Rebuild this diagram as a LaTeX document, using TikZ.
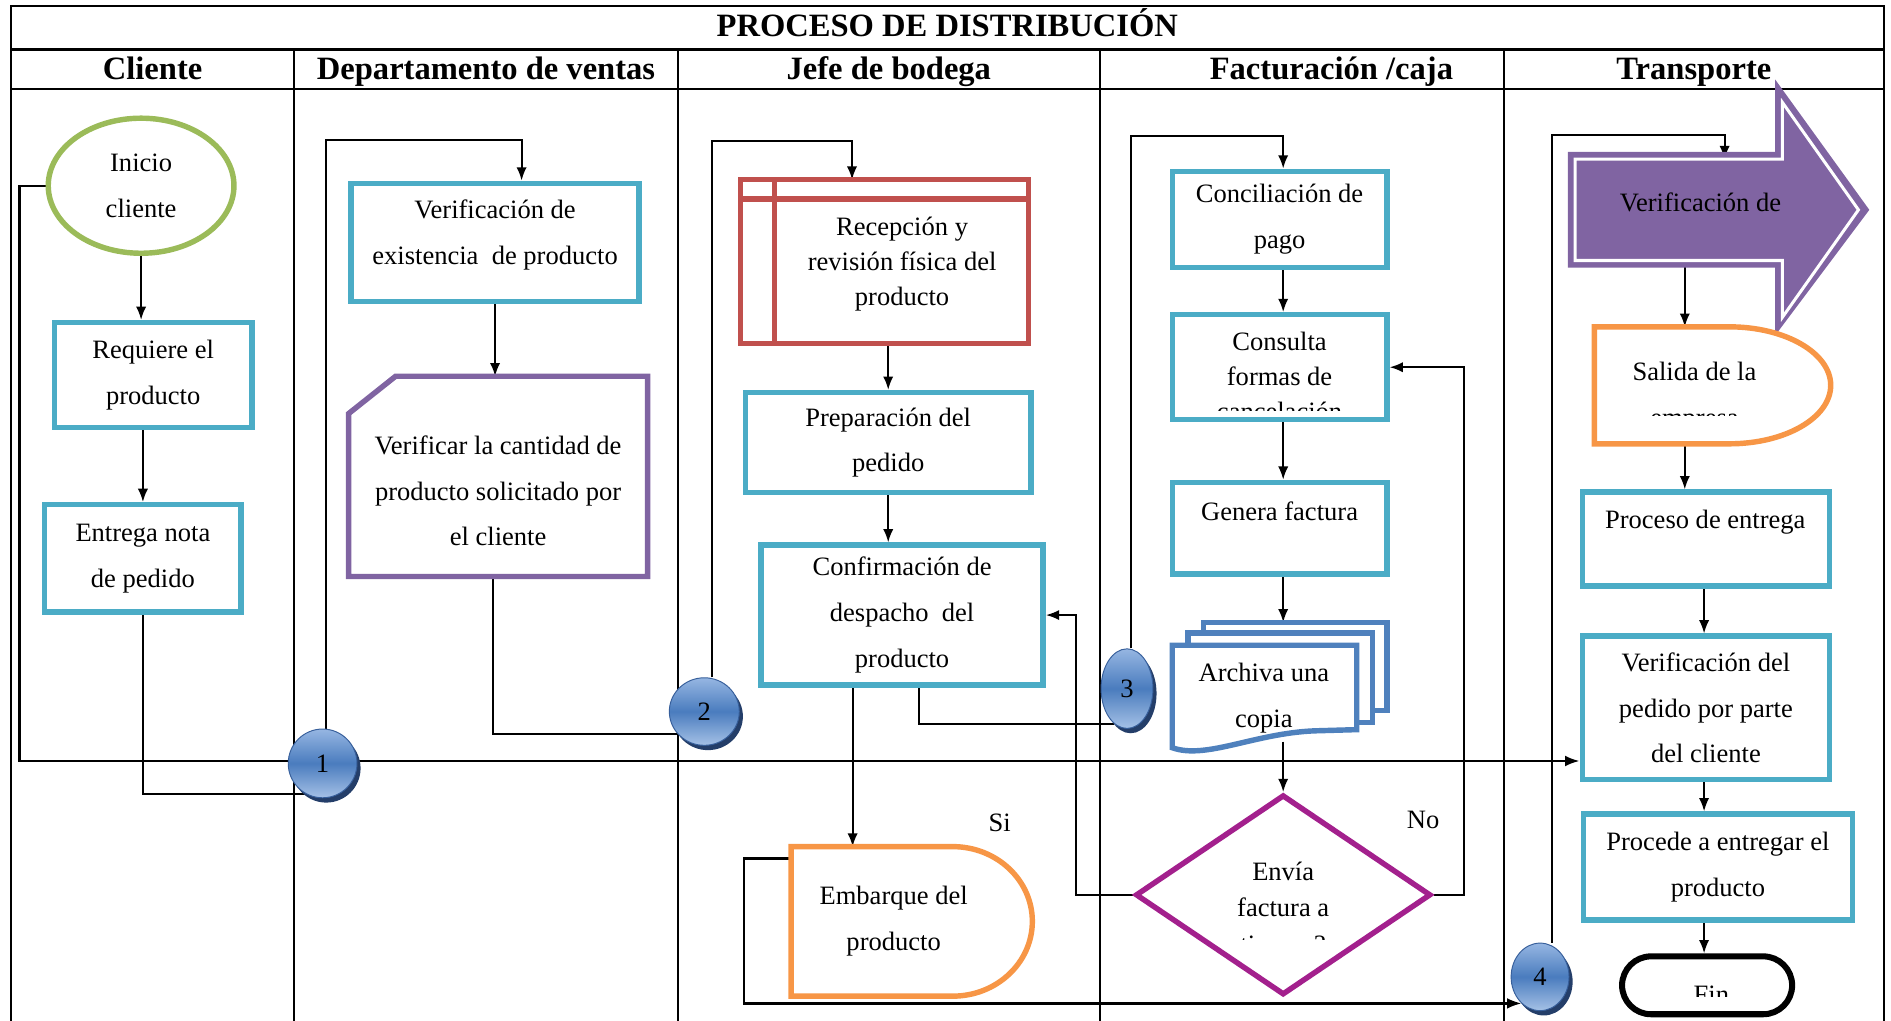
\documentclass[tikz,border=0pt]{standalone}
\usepackage{fontspec}
\setmainfont{Liberation Serif}
\usetikzlibrary{shapes.geometric,shadows,backgrounds,arrows.meta}
\definecolor{boxblue}{RGB}{75,172,198}
\definecolor{docblue}{RGB}{79,129,189}
\definecolor{leaf}{RGB}{155,187,89}
\definecolor{plum}{RGB}{128,100,162}
\definecolor{brick}{RGB}{192,80,77}
\definecolor{tang}{RGB}{247,150,70}
\definecolor{magen}{RGB}{163,32,141}
\definecolor{balltop}{RGB}{150,182,226}
\definecolor{ballmid}{RGB}{74,124,190}
\definecolor{ballbot}{RGB}{165,193,230}
\definecolor{ballrim}{RGB}{55,95,155}
\definecolor{ballshade}{RGB}{36,62,105}
\begin{document}
\begin{tikzpicture}[x=1pt,y=-1pt,
		every node/.style={font=\fontsize{22}{38}\selectfont},
		txt/.style={align=center, inner sep=0pt},
		tight/.style={font=\fontsize{22}{29}\selectfont},
		lanehead/.style={font=\fontsize{27}{30}\bfseries, anchor=base},
		box/.style={draw=boxblue, line width=4.5pt, fill=white, align=center, inner sep=0pt},
		ghost/.style={inner sep=0pt, outer sep=0pt},
		link/.style={line width=1.6pt},
		flow/.style={line width=1.6pt, -{Latex[length=11pt,width=8.5pt]}},
		mainflow/.style={line width=2pt, -{Latex[length=12pt,width=9pt]}},
		bubble/.style={ellipse, inner sep=0pt, draw=ballrim, line width=0.8pt,
			top color=balltop, bottom color=ballbot, middle color=ballmid,
			drop shadow={shadow xshift=3pt, shadow yshift=-4pt, fill=ballshade, opacity=1}}]
	\useasboundingbox (0,0) rectangle (1568,846);
	\node[lanehead] (title) at (785.5,30) {PROCESO DE DISTRIBUCIÓN};
	\node[lanehead] (hcli) at (126.5,66) {Cliente};
	\node[lanehead] (hven) at (403,66) {Departamento de ventas};
	\node[lanehead] (hbod) at (737,66) {Jefe de bodega};
	\node[lanehead] (hfac) at (1104,66) {Facturación /caja};
	\node[lanehead] (htra) at (1404.5,66) {Transporte};

	\node[ellipse, draw=leaf, line width=4.5pt, fill=white, minimum width=154, minimum height=112, txt] (ini) at (117,154) {Inicio\\cliente};
	\node[box, minimum width=164, minimum height=87] (req) at (127,311) {Requiere el\\producto};
	\node[box, minimum width=163, minimum height=89] (ent) at (118.5,463) {Entrega nota\\de pedido};

	\node[box, minimum width=239, minimum height=98] (exist) at (410.5,201) {};
	\node[txt] (existtxt) at (410.5,195) {Verificación de\\existencia\ \ de producto};
	\node[ghost, minimum width=248, minimum height=166] (cant) at (413,395) {};
	\draw[plum, line width=4.5pt, fill=white] ([yshift=-31pt]cant.north west) -- ([xshift=39pt]cant.north west) -- (cant.north east) -- (cant.south east) -- (cant.south west) -- cycle;
	\node[txt] (canttxt) at (413,407) {Verificar la cantidad de\\producto solicitado por\\el cliente};

	\node[ghost, draw=brick, line width=4.5pt, fill=white, minimum width=239, minimum height=136] (recep) at (733.5,217) {};
	\draw[brick, line width=4.5pt] ([yshift=-16pt]recep.north west) -- ([yshift=-16pt]recep.north east)
		([xshift=28pt]recep.north west) -- ([xshift=28pt]recep.south west);
	\node[txt, tight] (receptxt) at (748,219) {Recepción y\\revisión física del\\producto};
	\node[box, minimum width=237, minimum height=83] (prep) at (736.5,367) {Preparación del\\pedido};
	\node[box, minimum width=234, minimum height=116] (conf) at (748,510) {Confirmación de\\despacho\ \ del\\producto};
	\node[ghost, minimum width=200, minimum height=124] (emb) at (756,764) {};
	\draw[tang, line width=4.5pt, fill=white] (emb.north west) -- ++(134,0) arc[start angle=90, end angle=-90, x radius=66pt, y radius=62pt] -- (emb.south west) -- cycle;
	\node[txt] (embtxt) at (741,764) {Embarque del\\producto};
	\node (si) at (829,682) {Si};

	\node[box, minimum width=178, minimum height=80] (conc) at (1061,182) {Conciliación de\\pago};
	\node[box, minimum width=178, minimum height=87] (cons) at (1061,304.5) {};
	\begin{scope}
		\clip (970,259) rectangle (1152,340);
		\node[txt, tight] (constxt) at (1061,312) {Consulta\\formas de\\cancelación};
	\end{scope}
	\node[box, minimum width=178, minimum height=76] (gen) at (1061,438) {};
	\node[txt] (gentxt) at (1061,424) {Genera factura};
	\node[ghost, draw=docblue, line width=4.5pt, fill=white, minimum width=152, minimum height=73] (archc) at (1074,552.5) {};
	\node[ghost, draw=docblue, line width=4.5pt, fill=white, minimum width=153, minimum height=74] (archb) at (1061.5,562) {};
	\node[ghost, minimum width=153, minimum height=80] (arch) at (1048.5,575) {};
	\draw[docblue, line width=4.5pt, fill=white] (972,535) -- (1125,535) -- (1125,605) -- (1090,606) .. controls (1040,608) and (1000,630) .. (972,620) -- cycle;
	\node[txt] (archtxt) at (1048,579) {Archiva una\\copia};
	\node[diamond, draw=magen, line width=4.5pt, fill=white, minimum width=245, minimum height=166, inner sep=0pt] (dia) at (1064,742) {};
	\begin{scope}
		\clip (938,650) rectangle (1191,779);
		\node[txt, font=\fontsize{22}{30}\selectfont] (diatxt) at (1064,755) {Envía\\factura a\\tiempo?};
	\end{scope}
	\node (no) at (1180,680) {No};

	\node[ghost, minimum width=172, minimum height=84] (verif) at (1392,174) {};
	\fill[plum] (1300,126) -- (1472,126) -- (1472,66) -- (1550,174) -- (1472,278) -- (1472,222) -- (1300,222) -- cycle;
	\draw[white, line width=2.5pt] (verif.north west) -- (verif.north east) -- (1478,85) -- (1541,174) -- (1478,263) -- (verif.south east) -- (verif.south west) -- cycle;
	\node (veriftxt) at (1410,168) {Verificación de};
	\node[ghost, minimum width=196, minimum height=97] (sal) at (1420,319.5) {};
	\draw[tang, line width=4.5pt, fill=white] (sal.north west) -- ++(112,0) arc[start angle=90, end angle=-90, x radius=84pt, y radius=48.5pt] -- (sal.south west) -- cycle;
	\begin{scope}
		\clip (1322,271) rectangle (1518,344.5);
		\node[txt] (saltxt) at (1405,329) {Salida de la\\empresa};
	\end{scope}
	\node[box, minimum width=205, minimum height=78] (proc) at (1414.5,447) {};
	\node[txt] (proctxt) at (1414,433) {Proceso de entrega};
	\node[box, minimum width=205, minimum height=119] (vped) at (1414.5,587) {Verificación del\\pedido por parte\\del cliente};
	\node[box, minimum width=223, minimum height=88] (procd) at (1424.5,719) {Procede a entregar el\\producto};
	\node[draw=black, line width=5pt, fill=white, rounded corners=24pt, minimum width=141, minimum height=48] (fin) at (1415.5,817) {};
	\begin{scope}
		\clip (1345,793) rectangle (1486,826);
		\node[anchor=base] (fintxt) at (1419,832) {Fin};
	\end{scope}

	\node[bubble, minimum width=57, minimum height=57] (c1) at (267.5,633) {1};
	\node[bubble, minimum width=58, minimum height=56] (c2) at (584,590) {2};
	\node[bubble, minimum width=43, minimum height=66] (c3) at (934.5,571) {3};
	\node[bubble, minimum width=48, minimum height=56] (c4) at (1277,810) {4};

	\begin{scope}[on background layer]
		\draw[line width=1.8pt] (9,5) rectangle (1562,880) (9,41) -- (1562,41) (9,74) -- (1562,74);
		\foreach \x in {244,562,912,1247}
			\draw[line width=1.6pt] (\x,41) -- (\x,880);
		\draw[flow] (ini.south) -- (ini.south |- req.north);
		\draw[flow] (ent.north |- req.south) -- (ent.north);
		\draw[link] (ent.south) |- (c1.240);
		\draw[mainflow] (ini.west) -| (16,631) -- (vped.west |- 16,631);
		\draw[flow] ([xshift=3pt]c1.north) -- ([xshift=3pt]c1.north |- 0,116) -| ([xshift=22pt]exist.north);
		\draw[flow] (exist.south) -- (exist.south |- cant.north);
		\draw[link] ([xshift=-4pt]cant.south) |- (c2.220);
		\draw[flow] ([xshift=6pt]c2.north) -- ([xshift=6pt]c2.north |- 0,117) -| ([xshift=-27pt]recep.north);
		\draw[flow] (prep.north |- recep.south) -- (prep.north);
		\draw[flow] (prep.south) -- (prep.south |- conf.north);
		\draw[flow] ([xshift=-41pt]conf.south) -- ([xshift=-49pt]emb.north);
		\draw[link] ([xshift=14pt]conf.south) |- (c3.250);
		\draw[flow] (dia.west) -- (dia.west -| 892,0) |- (conf.east);
		\draw[flow] ([xshift=3.5pt]c3.north) -- ([xshift=3.5pt]c3.north |- 0,113) -| ([xshift=3pt]conc.north);
		\draw[flow] ([xshift=3pt]conc.south) -- ([xshift=3pt]cons.north);
		\draw[flow] ([xshift=3pt]cons.south) -- ([xshift=3pt]gen.north);
		\draw[flow] ([xshift=3pt]gen.south) -- ([xshift=-10pt]archc.north);
		\draw[flow] (dia.north |- arch.south) -- (dia.north);
		\draw[flow] (dia.east) -- (dia.east -| 1214,0) |- (cons.east);
		\draw[mainflow] ([yshift=-10pt]emb.north west) -- ++(-39,0) |- (c4.235);
		\draw[flow] ([xshift=10pt]c4.north) -- ([xshift=10pt]c4.north |- 0,112) -| ([xshift=38pt]verif.north);
		\draw[flow] ([xshift=5pt]verif.south) -- ([xshift=-23pt]sal.north);
		\draw[flow] ([xshift=-23pt]sal.south) -- ([xshift=-17.5pt]proc.north);
		\draw[flow] ([xshift=-1.5pt]proc.south) -- ([xshift=-1.5pt]vped.north);
		\draw[flow] ([xshift=-1.5pt]vped.south) -- ([xshift=-11.5pt]procd.north);
		\draw[flow] ([xshift=-11.5pt]procd.south) -- ([xshift=-2.5pt]fin.north);
	\end{scope}
\end{tikzpicture}
\end{document}
